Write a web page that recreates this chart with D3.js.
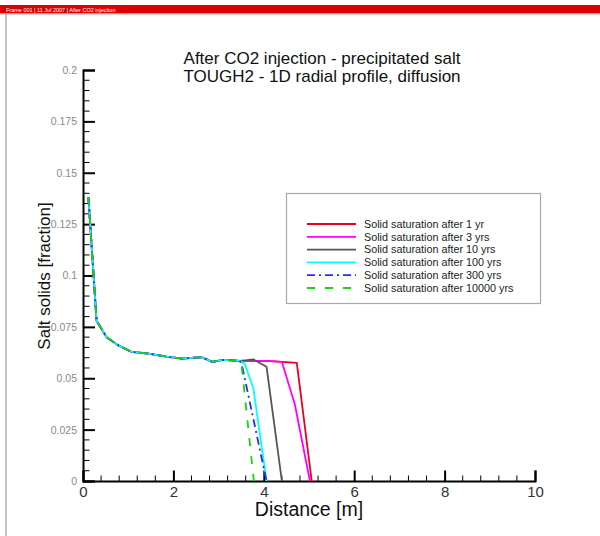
<!DOCTYPE html>
<html>
<head>
<meta charset="utf-8">
<script src="https://cdn.jsdelivr.net/npm/d3@7"></script>
<style>
  html, body { margin: 0; padding: 0; background: #fff; }
  svg { display: block; font-family: "Liberation Sans", Arial, Helvetica, sans-serif; }
</style>
</head>
<body>
<svg id="chart" width="600" height="536"></svg>
<script>
// ---------- data ----------
const titleLines = ["After CO2 injection - precipitated salt", "TOUGH2 - 1D radial profile, diffusion"];
const headerText = "Frame 001  |  11 Jul 2007  |  After CO2 injection";
const xTicks = [0, 2, 4, 6, 8, 10];
const yTicks = [0, 0.025, 0.05, 0.075, 0.1, 0.125, 0.15, 0.175, 0.2];
const yTickLabels = ["0", "0.025", "0.05", "0.075", "0.1", "0.125", "0.15", "0.175", "0.2"];

// shared near-well profile (identical for all times)
const commonDistance = [0.12, 0.30, 0.52, 0.78, 1.08, 1.45, 1.85, 2.2, 2.62, 2.86, 3.1, 3.47];
const commonSolids   = [0.138, 0.078, 0.070, 0.066, 0.0628, 0.062, 0.0605, 0.0595, 0.0603, 0.058, 0.0589, 0.0585];

// tails beyond the shared profile
const dist1yr    = [3.77, 4.06, 4.40, 4.73, 5.06];
const solids1yr  = [0.0585, 0.0585, 0.058, 0.0575, 0];
const dist3yr    = [3.77, 4.06, 4.40, 4.69, 5.02];
const solids3yr  = [0.0585, 0.0585, 0.058, 0.037, 0];
const dist10yr   = [3.62, 3.77, 4.06, 4.40];
const solids10yr = [0.0588, 0.0592, 0.0556, 0];
const dist100yr   = [3.58, 3.77, 4.06];
const solids100yr = [0.057, 0.045, 0];
const dist300yr   = [3.53, 4.06];
const solids300yr = [0.055, 0];
const dist10000yr   = [3.51, 3.78];
const solids10000yr = [0.056, 0];

const seriesNames = [
  "Solid saturation after 1 yr",
  "Solid saturation after 3 yrs",
  "Solid saturation after 10 yrs",
  "Solid saturation after 100 yrs",
  "Solid saturation after 300 yrs",
  "Solid saturation after 10000 yrs"
];
const seriesColors = ["#e8001c", "#ff00ff", "#555555", "#00ffff", "#2a2aff", "#16d516"];
const seriesDash = [null, null, null, null, "8,4,2,4", "8,10"];
const tails = [
  [dist1yr, solids1yr], [dist3yr, solids3yr], [dist10yr, solids10yr],
  [dist100yr, solids100yr], [dist300yr, solids300yr], [dist10000yr, solids10000yr]
];

const series = seriesNames.map((name, i) => {
  const xs = commonDistance.concat(tails[i][0]);
  const ys = commonSolids.concat(tails[i][1]);
  return { name, color: seriesColors[i], dash: seriesDash[i], points: xs.map((x, k) => [x, ys[k]]) };
});

// ---------- drawing ----------
const svg = d3.select("#chart");

// header bar
svg.append("rect").attr("x", 0).attr("y", 5).attr("width", 600).attr("height", 8.5).attr("fill", "#dd0000");
svg.append("rect").attr("x", 0).attr("y", 13.5).attr("width", 600).attr("height", 1).attr("fill", "#f4a0a0");
svg.append("text").attr("x", 6).attr("y", 11.6).attr("fill", "#fff").attr("font-size", 5.5).text(headerText);
// left frame border
svg.append("line").attr("x1", 6).attr("x2", 6).attr("y1", 14).attr("y2", 536)
  .attr("stroke", "#b0b0b0").attr("stroke-width", 1.5);

const x = d3.scaleLinear().domain([0, 10]).range([83, 535]);
const y = d3.scaleLinear().domain([0, 0.2]).range([481, 70]);

// title
svg.append("g").selectAll("text").data(titleLines).join("text")
  .attr("x", 322).attr("y", (d, i) => 64 + i * 17.5)
  .attr("text-anchor", "middle").attr("font-size", 17).attr("fill", "#111")
  .text(d => d);

// minor ticks
const xMinor = d3.range(0, 10.001, 0.4).filter(v => Math.abs(v / 2 - Math.round(v / 2)) > 1e-6);
const yMinor = d3.range(0, 0.2001, 0.005).filter(v => Math.abs(v / 0.025 - Math.round(v / 0.025)) > 1e-6);

svg.append("g").selectAll("line").data(xMinor).join("line")
  .attr("x1", d => x(d)).attr("x2", d => x(d)).attr("y1", 481).attr("y2", 475.5)
  .attr("stroke", "#000").attr("stroke-width", 1);
svg.append("g").selectAll("line").data(yMinor).join("line")
  .attr("y1", d => y(d)).attr("y2", d => y(d)).attr("x1", 83).attr("x2", 89.5)
  .attr("stroke", "#000").attr("stroke-width", 1);

// x axis (ticks pointing inward)
const xAxis = d3.axisBottom(x).tickValues(xTicks).tickSize(-10.5).tickPadding(5).tickFormat(d3.format("d"));
const gx = svg.append("g").attr("transform", "translate(0,481)").call(xAxis);
gx.select(".domain").attr("stroke", "#000").attr("stroke-width", 2);
gx.selectAll(".tick line").attr("stroke", "#000").attr("stroke-width", 2);
gx.selectAll(".tick text").attr("font-size", 15).attr("fill", "#333")
  .attr("font-family", "Liberation Sans, Arial, sans-serif");

// y axis (ticks pointing inward)
const yAxis = d3.axisLeft(y).tickValues(yTicks).tickSize(-12).tickPadding(6)
  .tickFormat((d, i) => yTickLabels[i]);
const gy = svg.append("g").attr("transform", "translate(83,0)").call(yAxis);
gy.select(".domain").attr("stroke", "#000").attr("stroke-width", 2);
gy.selectAll(".tick line").attr("stroke", "#000").attr("stroke-width", 2);
gy.selectAll(".tick text").attr("font-size", 10.5).attr("fill", "#8a8a8a")
  .attr("font-family", "Liberation Sans, Arial, sans-serif");

// axis titles
svg.append("text").attr("x", 309).attr("y", 516).attr("text-anchor", "middle")
  .attr("font-size", 19.5).attr("fill", "#111").text("Distance [m]");
svg.append("text").attr("transform", "translate(50,276) rotate(-90)").attr("text-anchor", "middle")
  .attr("font-size", 17).attr("fill", "#111").text("Salt solids [fraction]");

// curves
const line = d3.line().x(d => x(d[0])).y(d => y(d[1]));
svg.append("g").selectAll("path").data(series).join("path")
  .attr("d", d => line(d.points))
  .attr("fill", "none")
  .attr("stroke", d => d.color)
  .attr("stroke-width", 1.8)
  .attr("stroke-dasharray", d => d.dash)
  .attr("stroke-linejoin", "round");

// legend
const lg = svg.append("g");
lg.append("rect").attr("x", 286.5).attr("y", 193.5).attr("width", 254).attr("height", 110)
  .attr("fill", "#fff").attr("stroke", "#a8a8a8").attr("stroke-width", 1.2);
const items = lg.selectAll("g.item").data(series).join("g").attr("class", "item")
  .attr("transform", (d, i) => `translate(0,${224 + i * 12.8})`);
items.append("line").attr("x1", 307).attr("x2", 356).attr("y1", 0).attr("y2", 0)
  .attr("stroke", d => d.color).attr("stroke-width", 1.8).attr("stroke-dasharray", d => d.dash);
items.append("text").attr("x", 364).attr("y", 3.8).attr("font-size", 10.8).attr("fill", "#222")
  .text(d => d.name);
</script>
</body>
</html>
